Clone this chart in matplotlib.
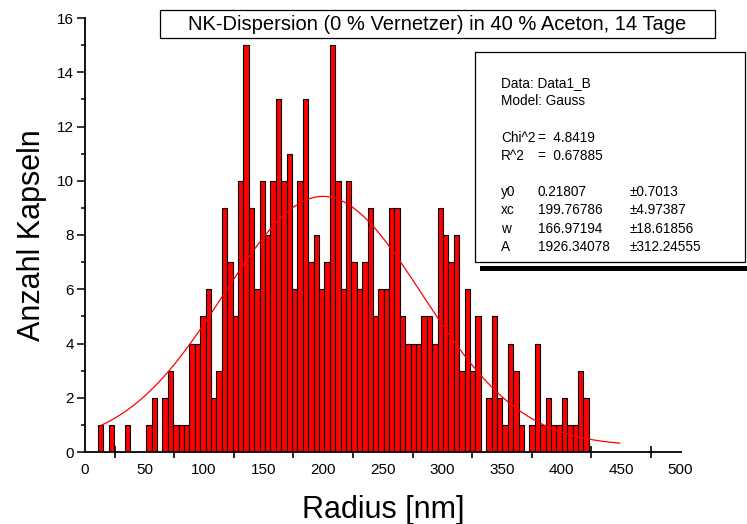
import numpy as np
import matplotlib
matplotlib.use("Agg")
import matplotlib.pyplot as plt
from matplotlib.patches import Rectangle

plt.rcParams["font.family"] = ["Liberation Sans", "DejaVu Sans"]

# histogram: counts per radius bin
bin_start = 10.7
bin_width = 4.53
counts = [
    1, 0, 1, 0, 0, 1, 0, 0, 0, 1, 2, 0, 2, 3, 1, 1, 1, 4, 4, 5,
    6, 2, 3, 9, 7, 5, 10, 15, 9, 6, 10, 8, 10, 13, 10, 11, 6, 10, 13, 7,
    8, 6, 7, 15, 10, 6, 10, 7, 6, 7, 9, 5, 6, 6, 9, 9, 5, 4, 4, 4,
    5, 5, 4, 9, 8, 7, 8, 3, 6, 3, 5, 0, 2, 5, 2, 1, 4, 3, 1, 0,
    1, 4, 1, 2, 1, 1, 2, 1, 1, 3, 2,
]

# Gauss fit parameters as reported in the fit box
fit_y0 = 0.21807
fit_xc = 199.76786
fit_w = 166.97194
fit_A = 1926.34078
fit_range = (13.0, 449.0)

title = "NK-Dispersion (0 % Vernetzer) in 40 % Aceton, 14 Tage"
fit_lines = [
    ("Data: Data1_B", "", ""),
    ("Model: Gauss", "", ""),
    ("", "", ""),
    ("Chi^2", "=  4.8419", ""),
    ("R^2", "=  0.67885", ""),
    ("", "", ""),
    ("y0", "0.21807", "\u00b10.7013"),
    ("xc", "199.76786", "\u00b14.97387"),
    ("w", "166.97194", "\u00b118.61856"),
    ("A", "1926.34078", "\u00b1312.24555"),
]

W, H = 747, 524
fig = plt.figure(figsize=(W / 100, H / 100), dpi=100)
ax = fig.add_axes([85 / W, 1 - 452 / H, (680.5 - 85) / W, (452 - 18) / H])

counts = np.array(counts)
left_edges = bin_start + bin_width * np.arange(len(counts))
nz = counts > 0
ax.bar(left_edges[nz], counts[nz], width=bin_width, align="edge",
       color="#ff0000", edgecolor="black", linewidth=0.8, zorder=2)

xf = np.linspace(*fit_range, 400)
yf = fit_y0 + fit_A / (fit_w * np.sqrt(np.pi / 2)) * np.exp(-2 * ((xf - fit_xc) / fit_w) ** 2)
ax.plot(xf, yf, color="red", linewidth=0.9, zorder=3)

ax.set_xlim(0, 500)
ax.set_ylim(0, 16)
for s in ("top", "right"):
    ax.spines[s].set_visible(False)
for s in ("left", "bottom"):
    ax.spines[s].set_linewidth(1.3)
    ax.spines[s].set_zorder(4)

ax.set_xticks(np.arange(0, 501, 50))
ax.set_xticks(np.arange(25, 500, 50), minor=True)
ax.tick_params(axis="x", which="major", length=0, labelsize=11, pad=8)
ax.tick_params(axis="x", which="minor", direction="inout", length=8, width=1.2)
ax.set_yticks(np.arange(0, 17, 2))
ax.set_yticks(np.arange(1, 16, 2), minor=True)
ax.tick_params(axis="y", which="major", direction="out", length=6, width=1.1, labelsize=11, pad=2)
ax.tick_params(axis="y", which="minor", direction="out", length=3, width=1.1)

ax.set_xlabel("Radius [nm]", fontsize=22, labelpad=13)
ax.set_ylabel("Anzahl Kapseln", fontsize=22, labelpad=7)

# title box
fig.patches.append(Rectangle((160 / W, 1 - 38 / H), (715 - 160) / W, 28 / H,
                             transform=fig.transFigure, facecolor="white", edgecolor="black",
                             linewidth=0.9))
fig.text(437 / W, 1 - 24 / H, title, ha="center", va="center", fontsize=14.5)

# fit report box with shadow
fig.patches.append(Rectangle((480 / W, 1 - 271 / H), (747 - 480) / W, 5 / H,
                             transform=fig.transFigure, facecolor="black", edgecolor="none"))
fig.patches.append(Rectangle((475 / W, 1 - 262 / H), (745 - 475) / W, (262 - 52) / H,
                             transform=fig.transFigure, facecolor="white", edgecolor="black",
                             linewidth=0.9))
for k, (c1, c2, c3) in enumerate(fit_lines):
    yy = 1 - (83 + 18.2 * k) / H
    fig.text(501 / W, yy, c1, fontsize=9.8, va="center")
    fig.text(538 / W, yy, c2, fontsize=9.8, va="center")
    fig.text(630 / W, yy, c3, fontsize=9.8, va="center")

fig.savefig("out.png", dpi=100)
